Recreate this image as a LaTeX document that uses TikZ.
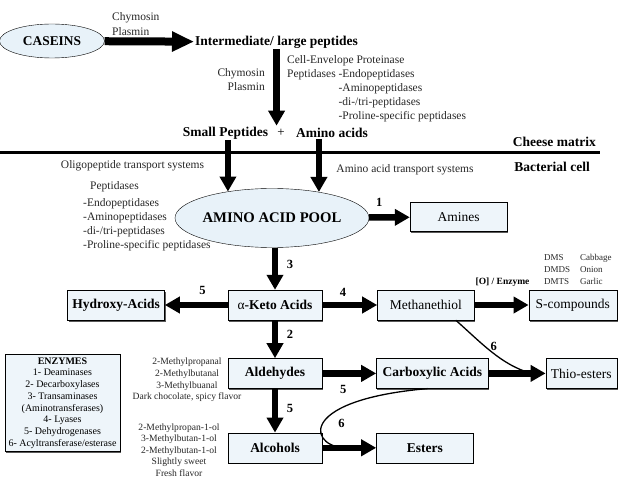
\documentclass[tikz,border=0pt]{standalone}
\usepackage{fontspec}
\setmainfont{Liberation Serif}
\usepackage{tikz}
\usetikzlibrary{arrows.meta,positioning,shapes.geometric,shadows}
\definecolor{boxblue}{RGB}{238,245,250}
\definecolor{poolblue}{RGB}{232,242,249}

\begin{document}
\begin{tikzpicture}[
  x=1pt,y=-1pt,
  box/.style={draw,fill=boxblue,minimum height=30pt,inner sep=2pt,
              font=\fontsize{13.5}{16}\selectfont,
              drop shadow={shadow xshift=1pt,shadow yshift=-1.5pt,fill=black!65,opacity=1}},
  boldbox/.style={box,font=\fontsize{13.5}{16}\selectfont\bfseries},
  pool/.style={draw,ellipse,fill=poolblue,inner sep=0pt},
  arrow/.style={-{Triangle[length=15pt,width=16pt]},line width=6.5pt},
  bigarrow/.style={-{Triangle[length=22pt,width=19pt]},line width=8pt},
  hook/.style={line width=1.3pt},
  head/.style={font=\fontsize{13.5}{16}\selectfont\bfseries,inner sep=1pt},
  txt/.style={font=\fontsize{11.5}{14}\selectfont,inner sep=1pt,text=black!85},
  small/.style={font=\fontsize{9.6}{11.6}\selectfont,inner sep=1pt,text=black!85},
  num/.style={font=\fontsize{12.5}{14}\selectfont\bfseries,inner sep=0pt},
  node distance=55pt
]
\useasboundingbox (0,0) rectangle (623,478);

% outside the cell
\node[pool,minimum width=105pt,minimum height=34pt,
      font=\fontsize{13.4}{16}\selectfont\bfseries] (caseins) at (52,41) {CASEINS};
\node[head,anchor=west] (inter) at (194,42) {Intermediate/ large peptides};
\node[txt,anchor=west,align=left] (chymoA) at (111,24) {Chymosin\\[1pt]Plasmin};
\node[txt,anchor=east,align=right] (chymoB) at (266,80) {Chymosin\\Plasmin};
\node[txt,anchor=west,align=left] (cep) at (286,88.5) {Cell-Envelope Proteinase\\
  Peptidases -Endopeptidases\\
  \phantom{Peptidases }-Aminopeptidases\\
  \phantom{Peptidases }-di-/tri-peptidases\\
  \phantom{Peptidases }-Proline-specific peptidases};
\node[head] (small) at (225.5,133) {Small Peptides};
\node[font=\fontsize{13}{16}\selectfont,inner sep=1pt,right=7pt of small] (plus) {+};
\node[head,right=9pt of plus] (amino) {Amino acids};

% membrane
\coordinate (mleft) at (0,153);
\coordinate (mright) at (600,153);
\draw[line width=3pt] (mleft) -- (mright);
\node[head,anchor=east] (cheese) at (597,142) {Cheese matrix};
\node[head,anchor=east] (bact) at (591,167) {Bacterial cell};
\node[txt] (oligo) at (132.5,166) {Oligopeptide transport systems};
\node[txt] (aats) at (405,170) {Amino acid transport systems};

% inside the cell
\node[txt,anchor=west,align=left] (peplist) at (82,216) {\hspace*{7pt}Peptidases\\[3pt]
  -Endopeptidases\\-Aminopeptidases\\-di-/tri-peptidases\\-Proline-specific peptidases};
\node[pool,minimum width=194pt,minimum height=59pt,
      font=\fontsize{14.7}{17}\selectfont\bfseries] (aap) at (272,218) {\makebox[0pt]{AMINO ACID POOL}};
\node[box,minimum width=97pt,minimum height=29pt] (amines) at (458.5,217) {Amines};

\node[boldbox,minimum width=94pt] (keto) at (275,305) {\textmd{α}-Keto Acids};
\node[boldbox,minimum width=97pt,left=63pt of keto] (hydroxy) {Hydroxy-Acids};
\node[box,minimum width=97pt,right=55pt of keto] (methane) {Methanethiol};
\node[box,minimum width=88pt,right=54pt of methane] (scomp) {S-compounds};
\node[boldbox,minimum width=94pt,below=38pt of keto] (ald) {Aldehydes};
\node[boldbox,minimum width=112pt,right=54pt of ald] (carbox) {Carboxylic Acids};
\node[box,minimum width=71pt,right=57pt of carbox] (thio) {Thio-esters};
\node[boldbox,minimum width=94pt,below=44pt of ald] (alc) {Alcohols};
\node[boldbox,minimum width=97pt,right=54pt of alc] (esters) {Esters};

\node[font=\fontsize{9}{12}\selectfont,inner sep=0pt,text=black!85,anchor=west] (dms) at (544,270)
  {\begin{tabular}{@{}l@{\hspace{10pt}}l@{}}DMS & Cabbage\\DMDS & Onion\\DMTS & Garlic\end{tabular}};
\node[font=\fontsize{9.5}{11}\selectfont\bfseries,inner sep=1pt] (oenz) at (502.5,282) {[O] / Enzyme};
\node[small,align=center] (aldnote) at (187,380) {2-Methylpropanal\\2-Methylbutanal\\3-Methylbuanal\\Dark chocolate, spicy flavor};
\node[small,align=center] (alcnote) at (179,450) {2-Methylpropan-1-ol\\3-Methylbutan-1-ol\\2-Methylbutan-1-ol\\Slightly sweet\\Fresh flavor};

\node[box,align=center,font=\fontsize{10}{11.7}\selectfont,minimum width=115pt,inner sep=3pt] (enz) at (62.5,403)
  {\textbf{ENZYMES}\\1- Deaminases\\2- Decarboxylases\\3- Transaminases\\(Aminotransferases)\\4- Lyases\\5- Dehydrogenases\\6- Acyltransferase/esterase};

% pathways
\draw[bigarrow] (caseins) -- (inter);
\draw[arrow] (inter.south) -- (inter.south |- small.north);
\draw[arrow] (aap.149 |- small.south) -- (aap.149);
\draw[arrow] (aap.29 |- amino.south) -- (aap.29);
\draw[arrow] (aap) -- (amines) node[num,pos=0.25,yshift=15pt] {1};
\draw[arrow] (keto |- aap.south) -- (keto) node[num,pos=0.4,xshift=15pt] {3};
\draw[arrow] (keto) -- (hydroxy) node[num,pos=0.4,yshift=15pt] {5};
\draw[arrow] (keto) -- (methane) node[num,pos=0.38,yshift=13pt] {4};
\draw[arrow] (methane) -- (scomp);
\draw[arrow] (keto) -- (ald) node[num,pos=0.37,xshift=15pt] {2};
\draw[arrow] (ald) -- (carbox) node[num,pos=0.39,yshift=-16pt] {5};
\draw[arrow] (carbox) -- (thio);
\draw[arrow] (ald) -- (alc) node[num,pos=0.46,xshift=15pt] {5};
\draw[arrow] (alc) -- (esters);
\draw[hook] (methane.-27) .. controls +(25,22) and +(-30,-8) .. ([xshift=-14pt]thio.west)
  node[num,pos=0.5,xshift=2pt,yshift=6pt] {6};
\draw[hook] ([xshift=-5pt]carbox.south) .. controls +(-137,12) and +(-40,3) .. ([xshift=-26pt]esters.west)
  node[num,pos=0.5,xshift=19pt] {6};
\end{tikzpicture}
\end{document}
